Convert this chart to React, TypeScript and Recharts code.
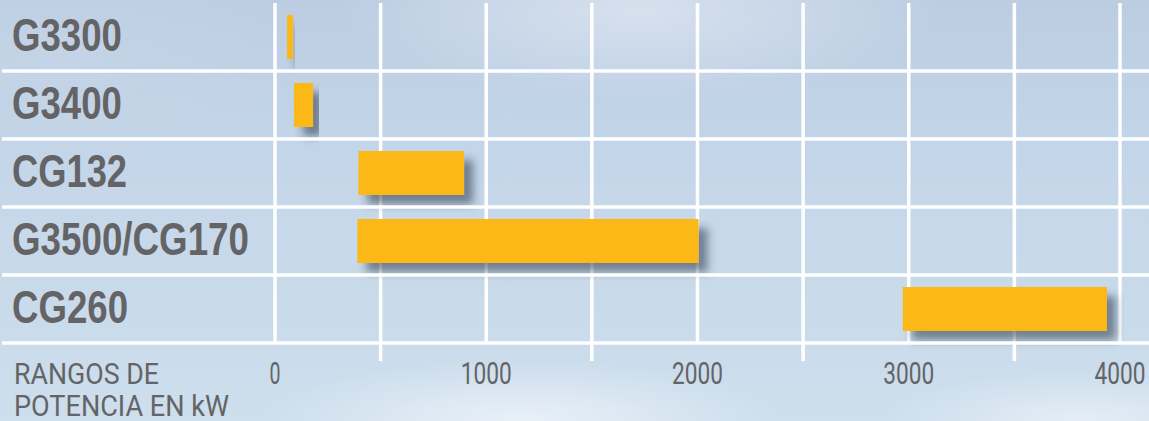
import { BarChart, Bar, XAxis, YAxis, CartesianGrid } from 'recharts';

const categories = ['G3300', 'G3400', 'CG132', 'G3500/CG170', 'CG260'];
const minKw = [57, 90, 395, 390, 2972];
const maxKw = [85, 180, 895, 2005, 3938];
const xTicks = [0, 500, 1000, 1500, 2000, 2500, 3000, 3500, 4000];

const data = categories.map((name, i) => ({ name, range: [minKw[i], maxKw[i]] }));

const GRAY = '#646466';
const labelWidths: Record<string, number> = {
  G3300: 110,
  G3400: 110,
  CG132: 115,
  'G3500/CG170': 237,
  CG260: 116,
};

function CategoryTick(props: any) {
  const { y, payload } = props;
  return (
    <g>
      <line x1={2} x2={1149} y1={y + 34} y2={y + 34} stroke="#fff" strokeWidth={3.5} />
      <text
        x={12}
        y={y + 14}
        fill={GRAY}
        fontSize={46}
        fontWeight={700}
        fontFamily="'Liberation Sans Narrow', 'Liberation Sans', Arial, sans-serif"
        textLength={labelWidths[payload.value]}
        lengthAdjust="spacingAndGlyphs"
      >
        {payload.value}
      </text>
    </g>
  );
}

function ValueTick(props: any) {
  const { x, y, payload } = props;
  const v = payload.value as number;
  if (v % 1000 !== 0) {
    return <line x1={x} x2={x} y1={y} y2={y + 18} stroke="#fff" strokeWidth={3.5} />;
  }
  const label = String(v);
  return (
    <text
      x={x}
      y={y + 41}
      textAnchor="middle"
      fill={GRAY}
      fontSize={31}
      fontFamily="Roboto, sans-serif"
      textLength={label.length === 1 ? 11 : 51}
      lengthAdjust="spacingAndGlyphs"
    >
      {label}
    </text>
  );
}

function AxisTitle() {
  return (
    <g fill={GRAY} fontSize={29} fontFamily="Roboto, sans-serif">
      <text x={14} y={384} textLength={145} lengthAdjust="spacingAndGlyphs">RANGOS DE</text>
      <text x={14} y={416} textLength={215} lengthAdjust="spacingAndGlyphs">POTENCIA EN kW</text>
    </g>
  );
}

function ShadowBar(props: any) {
  const { x, y, width, height } = props;
  if (width == null || height == null) return null;
  return <rect x={x} y={y} width={width} height={height} fill="#FCB814" filter="url(#barShadow)" />;
}

export default function App() {
  return (
    <div
      style={{
        position: 'absolute',
        left: 0,
        top: 0,
        width: 1149,
        height: 421,
        overflow: 'hidden',
        background:
          'radial-gradient(ellipse 260px 60px at 520px 420px, rgba(235,242,248,0.9), rgba(235,242,248,0) 100%),' +
          'radial-gradient(ellipse 200px 50px at 1080px 420px, rgba(232,240,247,0.85), rgba(232,240,247,0) 100%),' +
          'radial-gradient(ellipse 300px 90px at 640px 10px, rgba(225,233,243,0.7), rgba(225,233,243,0) 100%),' +
          'radial-gradient(ellipse 240px 120px at 60px 60px, rgba(200,214,232,0.6), rgba(200,214,232,0) 100%),' +
          'linear-gradient(to bottom, #bccde2 0%, #c3d5e8 35%, #c8daea 65%, #cddeed 100%)',
      }}
    >
      <BarChart
        width={1149}
        height={421}
        data={data}
        layout="vertical"
        margin={{ top: 3, right: 29, bottom: 0, left: 0 }}
        barSize={44}
      >
        <defs>
          <filter id="barShadow" x="-20%" y="-40%" width="150%" height="200%">
            <feDropShadow dx={9} dy={9} stdDeviation={4} floodColor="#2c3646" floodOpacity={0.55} />
          </filter>
        </defs>
        <CartesianGrid horizontal={false} stroke="#fff" strokeWidth={3.5} strokeOpacity={1} />
        <XAxis
          type="number"
          domain={[0, 4000]}
          ticks={xTicks}
          interval={0}
          height={78}
          axisLine={false}
          tickLine={false}
          tickSize={0}
          tickMargin={0}
          tick={<ValueTick />}
          label={<AxisTitle />}
        />
        <YAxis
          type="category"
          dataKey="name"
          width={275}
          axisLine={false}
          tickLine={false}
          tick={<CategoryTick />}
        />
        <Bar dataKey="range" isAnimationActive={false} shape={<ShadowBar />} />
      </BarChart>
    </div>
  );
}
